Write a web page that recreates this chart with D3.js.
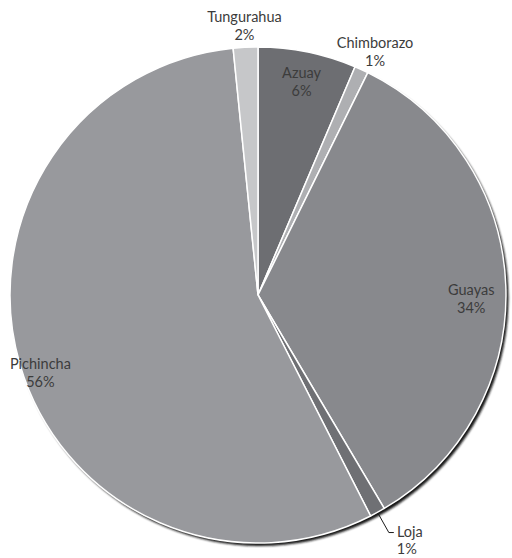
<!DOCTYPE html>
<html>
<head>
<meta charset="utf-8">
<script src="https://cdn.jsdelivr.net/npm/d3@7"></script>
<style>
  html, body { margin: 0; padding: 0; background: #fff; }
  svg { display: block; }
  text { font-family: Lato, "Open Sans", sans-serif; font-size: 14.5px; fill: #3c3c3c; }
</style>
</head>
<body>
<svg id="chart" width="512" height="558"></svg>
<script>
// Provinces, clockwise from 12 o'clock
const provinces = ["Azuay", "Chimborazo", "Guayas", "Loja", "Pichincha", "Tungurahua"];
const shares    = [6.4, 0.9, 34.2, 1.0, 55.9, 1.6];
const shareLabels = ["6%", "1%", "34%", "1%", "56%", "2%"];
const fills = ["#6d6e72", "#aeafb2", "#88898d", "#6f7074", "#98999d", "#c6c7c9"];

const W = 512, H = 558;
const cx = 258, cy = 295, R = 248;

const svg = d3.select("#chart");
const defs = svg.append("defs");
defs.append("filter").attr("id", "soft")
  .attr("x", "-5%").attr("y", "-5%").attr("width", "110%").attr("height", "110%")
  .append("feGaussianBlur").attr("stdDeviation", 0.8);

const g = svg.append("g").attr("transform", `translate(${cx},${cy})`);

const data = provinces.map((name, i) => ({ name, value: shares[i], label: shareLabels[i], fill: fills[i] }));

const pie = d3.pie().value(d => d.value).sort(null);
const arcs = pie(data);
const arc = d3.arc().innerRadius(0).outerRadius(R);

// drop shadow behind the disc
g.append("circle")
  .attr("cx", 2.5).attr("cy", 3)
  .attr("r", R)
  .attr("fill", "#161616")
  .attr("filter", "url(#soft)");

g.selectAll("path.slice")
  .data(arcs)
  .join("path")
  .attr("class", "slice")
  .attr("d", arc)
  .attr("fill", d => d.data.fill)
  .attr("stroke", "#fff")
  .attr("stroke-width", 1.5)
  .attr("stroke-linejoin", "round");

// label placement: radius factor, angular nudge (degrees), leader flag
const placement = {
  "Azuay":      { k: 0.88, angle: 0 },
  "Chimborazo": { k: 1.09, angle: 1 },
  "Guayas":     { k: 0.86, angle: 3 },
  "Loja":       { k: 1.04, leader: true },
  "Pichincha":  { k: 0.93, angle: -3 },
  "Tungurahua": { k: 1.09, angle: 0 }
};

const lineH = 18;
arcs.forEach(a => {
  const p = placement[a.data.name];
  const mid = (a.startAngle + a.endAngle) / 2 + ((p.angle || 0) * Math.PI / 180);
  if (p.leader) {
    const r0 = R + 1;
    const x0 = Math.sin(mid) * r0, y0 = -Math.cos(mid) * r0;
    const r1 = R * 1.07;
    const x1 = Math.sin(mid) * r1 + 3, y1 = -Math.cos(mid) * r1 + 5;
    const x2 = x1 + 5;
    g.append("path")
      .attr("d", `M${x0},${y0}L${x1},${y1}L${x2},${y1}`)
      .attr("fill", "none")
      .attr("stroke", "#1a1a1a")
      .attr("stroke-width", 1);
    const t = g.append("text").attr("text-anchor", "middle");
    t.append("tspan").attr("x", x2 + 16).attr("y", y1 + 4).text(a.data.name);
    t.append("tspan").attr("x", x2 + 13).attr("y", y1 + 21).text(a.data.label);
  } else {
    const r = R * p.k;
    const x = Math.sin(mid) * r, y = -Math.cos(mid) * r;
    const t = g.append("text").attr("text-anchor", "middle");
    t.append("tspan").attr("x", x).attr("y", y - 3).text(a.data.name);
    t.append("tspan").attr("x", x).attr("y", y - 3 + lineH).text(a.data.label);
  }
});
</script>
</body>
</html>
